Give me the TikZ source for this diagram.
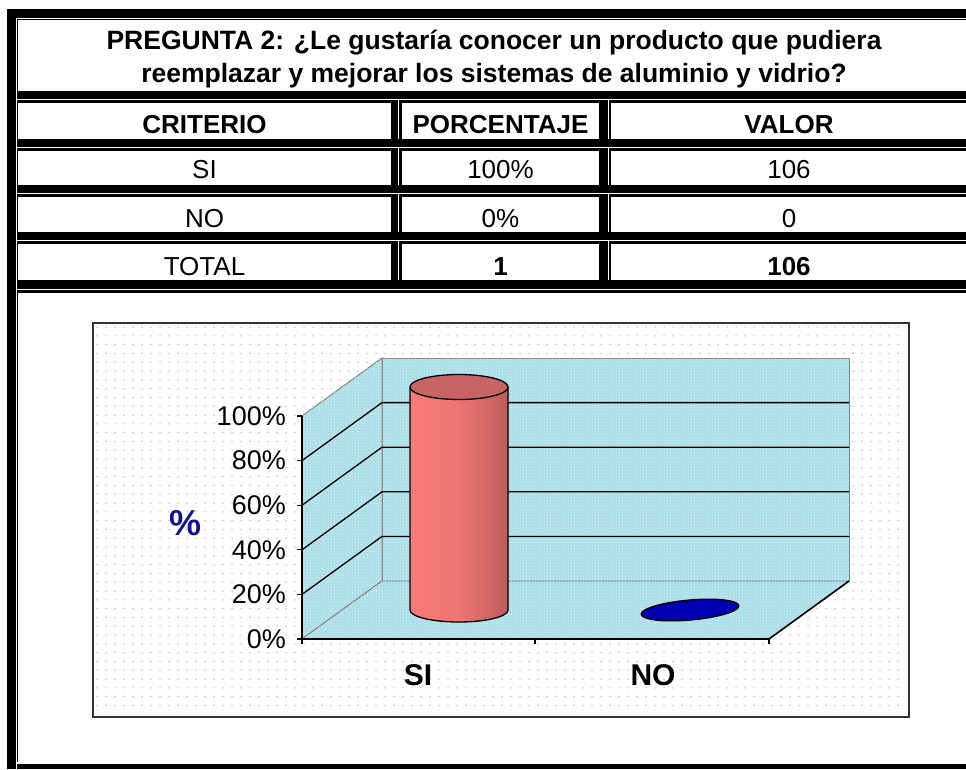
\documentclass[tikz,border=0pt]{standalone}
\usepackage{fontspec}
\setmainfont{Liberation Sans}
\usepackage{xcolor}
\usepackage{tikz}
\usetikzlibrary{patterns}
\definecolor{wallblue}{RGB}{170,222,232}
\definecolor{barlight}{RGB}{246,122,120}
\definecolor{bardark}{RGB}{188,92,92}
\definecolor{bartop}{RGB}{200,100,100}
\definecolor{noblue}{RGB}{0,0,178}
\definecolor{pctblue}{RGB}{20,20,140}

\begin{document}
\begin{tikzpicture}[x=1pt,y=-1pt,
	txt/.style={font=\fontsize{26}{30}\selectfont, anchor=base},
	btxt/.style={font=\fontsize{26}{30}\selectfont\bfseries, anchor=base},
	axlab/.style={font=\fontsize{27}{30}\selectfont, anchor=east, inner sep=0pt},
	catlab/.style={font=\fontsize{30}{32}\selectfont\bfseries},
	wall/.style={fill=wallblue, draw=gray, line width=1,
		postaction={pattern=crosshatch dots, pattern color=white!55!wallblue}},
	gridline/.style={black, line width=1.3}]
		\useasboundingbox (0,0) rectangle (966,769);
		% Draw the frame and the cell walls in black
		\fill[black] (7,9) rectangle (970,769);
		\draw[white, line width=1.2] (16.5,769) -- (16.5,18.5) -- (970,18.5);
		\draw[white, line width=1.2] (16.5,763) -- (970,763);
		\fill[white] (18,20) rectangle (970,91);
		\fill[white] (18,293) rectangle (970,761.5);
		% Rows of the table
		\foreach \a/\b in {103/139,151/185,197/232,244/280}{
			\fill[white] (18,\a) rectangle (391,\b);
			\fill[white] (402,\a) rectangle (599,\b);
			\fill[white] (611,\a) rectangle (970,\b);
			\draw[white, line width=1.2] (398.7,\a-3.3) -- (398.7,\b);
			\draw[white, line width=1.2] (608.3,\a-3.3) -- (608.3,\b);
		}
		\foreach \h in {99.7,147.7,193.7,240.7,289.7}
			\draw[white, line width=1.3] (17,\h) -- (970,\h);
		% Title
		\node[font=\fontsize{26.5}{32.5}\selectfont\bfseries, align=center] (q) at (494,59)
			{PREGUNTA 2: ¿Le gustaría conocer un producto que pudiera\\reemplazar y mejorar los sistemas de aluminio y vidrio?};
		% Header and values
		\node[btxt] (h1) at (204.5,133) {CRITERIO};
		\node[btxt] (h2) at (500.5,133) {PORCENTAJE};
		\node[btxt] (h3) at (789,133) {VALOR};
		\node[txt] (a1) at (204.5,178) {SI};
		\node[txt] (a2) at (500.5,178) {100\%};
		\node[txt] (a3) at (789,178) {106};
		\node[txt] (b1) at (204.5,227) {NO};
		\node[txt] (b2) at (500.5,227) {0\%};
		\node[txt] (b3) at (789,227) {0};
		\node[txt] (c1) at (204.5,275) {TOTAL};
		\node[btxt] (c2) at (500.5,275) {1};
		\node[btxt] (c3) at (789,275) {106};
		% Chart box with dotted background
		\draw[black!80, line width=2, fill=white] (93,323) rectangle (909,717);
		\foreach \y in {327,335.8,...,713}
			\draw[gray!60, line width=1.5, dash pattern=on 0pt off 9pt, line cap=round] (97,\y) -- (906,\y);
		% Walls and floor
		\path[wall] (382,358) rectangle (849,581);
		\path[wall] (302,416) -- (382,358) -- (382,581) -- (302,639) -- cycle;
		\path[wall] (302,639) -- (382,581) -- (849,581) -- (769,639) -- cycle;
		% Grid lines
		\foreach \v in {1,...,4}
			\draw[gridline] (302,639-44.6*\v) -- (382,581-44.6*\v) -- (849,581-44.6*\v);
		% Axes and ticks
		\draw[black, line width=1.8] (302,416) -- (302,639) -- (769,639);
		\draw[black, line width=1.6] (769,639) -- (849,581);
		\foreach \v/\t in {0/0\%,1/20\%,2/40\%,3/60\%,4/80\%,5/100\%}{
			\draw[black, line width=1.3] (297,639-44.6*\v) -- (302,639-44.6*\v);
			\node[axlab] (y\v) at (286,639-44.6*\v) {\t};
		}
		\foreach \x in {302,535,769}
			\draw[black, line width=1.3] (\x,639) -- (\x,644);
		% Cylinder for SI
		\fill[left color=barlight, right color=bardark, middle color=barlight!85!bardark]
			(410,387) -- (410,610) arc[start angle=180, end angle=0, x radius=49, y radius=12] -- (508,387) -- cycle;
		\draw[black, line width=1.3]
			(410,387) -- (410,610) arc[start angle=180, end angle=0, x radius=49, y radius=12] -- (508,387);
		\filldraw[fill=bartop, draw=black, line width=1.3] (459,387) ellipse [x radius=49, y radius=12.5];
		% Flat disk for NO
		\filldraw[fill=noblue, draw=black, line width=1.3, rotate around={5:(690,610)}]
			(690,610) ellipse [x radius=49, y radius=10];
		% Labels
		\node[font=\fontsize{36}{40}\selectfont\bfseries, text=pctblue] (pct) at (186,523) {\%};
		\node[catlab] (si) at (418,675) {SI};
		\node[catlab] (no) at (653,675) {NO};
\end{tikzpicture}
\end{document}
